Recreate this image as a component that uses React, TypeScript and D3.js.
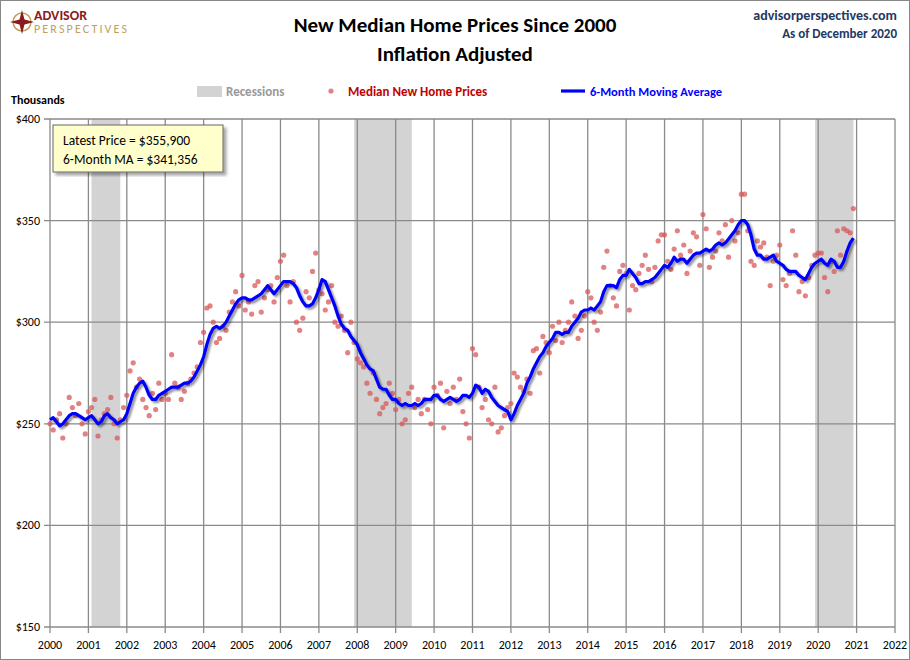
import React from 'react';
import * as d3 from 'd3';

// monthly, Jan 2000 .. Dec 2020, thousands of 2020 dollars
const prices = [
  250,247,252,255,243,250,263,258,254,260,250,245,
  256,258,262,244,252,255,257,263,250,243,252,258,
  264,276,280,268,272,262,258,254,265,257,270,262,
  265,262,284,270,268,262,266,270,272,275,278,290,
  295,307,308,300,290,292,298,296,305,310,315,308,
  323,306,310,304,318,320,305,312,316,318,310,322,
  330,333,318,310,320,300,296,302,315,312,325,334,
  316,314,306,310,318,300,298,303,296,285,300,290,
  282,280,278,270,265,275,262,255,258,260,270,265,
  257,262,250,252,265,268,258,262,255,262,257,250,
  268,264,270,248,266,260,268,262,272,256,250,243,
  287,284,268,258,262,252,250,268,246,248,254,258,
  260,275,273,268,266,272,265,286,287,275,293,290,
  285,298,291,300,290,296,300,310,303,292,296,303,
  315,312,300,296,305,327,335,318,312,308,325,328,
  324,306,318,316,324,328,333,326,320,327,340,343,
  343,330,326,336,345,333,338,324,335,344,342,328,
  353,346,327,332,335,344,340,348,332,350,340,344,
  363,363,345,330,328,340,337,339,332,318,330,333,
  338,321,318,324,345,333,315,320,313,322,328,333,
  334,334,322,315,330,325,345,333,346,345,344,355.9,
];

const movingAvg = [
  252,253,251,249,250,252,254,255,255,254,253,252,
  253,254,252,250,251,254,255,253,252,250,251,252,
  255,260,265,268,270,271,268,264,262,262,264,265,
  266,267,268,268,268,269,270,270,271,273,276,279,
  283,289,294,297,298,297,298,300,303,306,309,311,
  312,312,311,311,312,313,314,316,318,316,314,316,
  318,320,320,320,319,317,313,310,308,308,309,312,
  316,321,320,316,312,308,303,299,297,296,293,291,
  289,285,282,279,277,276,272,268,267,267,264,262,
  262,260,259,260,259,259,260,259,260,262,262,262,
  264,264,262,261,262,263,262,261,262,264,264,263,
  265,269,268,265,267,266,263,261,259,258,257,256,
  252,255,259,262,265,270,273,277,280,283,285,288,
  290,292,295,295,294,295,295,298,300,302,305,306,
  306,307,306,308,310,315,318,318,318,317,321,323,
  323,326,324,322,319,319,320,320,321,322,324,326,
  328,327,329,332,330,331,331,329,331,333,334,334,
  335,336,335,336,338,339,338,339,341,343,345,348,
  350,350,348,343,336,333,333,331,331,332,333,330,
  329,328,326,325,325,325,323,322,321,324,327,329,
  330,331,329,328,331,330,327,327,330,335,339,341.356,
];

const recessions = [[2001.08, 2001.83], [2007.92, 2009.42], [2019.92, 2020.92]];
const yTicks = [150, 200, 250, 300, 350, 400];
const xYears = d3.range(2000, 2023);

const W = 910, H = 660;
const x = d3.scaleLinear().domain([2000, 2022]).range([50, 895]);
const y = d3.scaleLinear().domain([150, 400]).range([627, 119]);
const font = 'Calibri, Carlito, "Open Sans", Arial, sans-serif';

export default function App() {
  const t = (i: number) => 2000 + i / 12;
  const line = d3.line<number>().x((_, i) => x(t(i))).y(d => y(d))(movingAvg) as string;
  return (
    <svg width={W} height={H} style={{ position: 'absolute', left: 0, top: 0, fontFamily: font }}>
      <defs>
        <filter id="sh" x="-5%" y="-5%" width="110%" height="110%">
          <feDropShadow dx="2" dy="2" stdDeviation="1.2" floodColor="#000" floodOpacity="0.45" />
        </filter>
        <filter id="bs"><feDropShadow dx="3" dy="3" stdDeviation="1.5" floodColor="#000" floodOpacity="0.35" /></filter>
      </defs>
      <rect x={0.5} y={0.5} width={W - 1} height={H - 1} fill="#fff" stroke="#888" />
      {recessions.map(([a, b], i) => (
        <rect key={i} x={x(a)} y={119} width={x(b) - x(a)} height={508} fill="#d3d3d3" />
      ))}
      {xYears.map(yr => (
        <line key={yr} x1={x(yr)} x2={x(yr)} y1={119} y2={633} stroke="#8a8a8a" strokeWidth={1.3} />
      ))}
      {yTicks.map(v => (
        <g key={v}>
          <line x1={44} x2={895} y1={y(v)} y2={y(v)} stroke="#8a8a8a" strokeWidth={1.3} />
          <text x={40} y={y(v) + 4} textAnchor="end" fontSize={12}>${v}</text>
        </g>
      ))}
      {xYears.map(yr => (
        <text key={yr} x={x(yr)} y={649} textAnchor="middle" fontSize={12}>{yr}</text>
      ))}
      <text x={11} y={104} fontSize={12} fontWeight="bold">Thousands</text>
      {prices.map((p, i) => (
        <circle key={i} cx={x(t(i))} cy={y(p)} r={2.6} fill="#d9585a" opacity={0.75} />
      ))}
      <path d={line} fill="none" stroke="#0000ff" strokeWidth={3.2} strokeLinejoin="round" filter="url(#sh)" />
      <rect x={53} y={125} width={170} height={47} fill="#ffffcc" stroke="#666" filter="url(#bs)" />
      <text x={63} y={145} fontSize={13.5}>Latest Price = $355,900</text>
      <text x={63} y={164} fontSize={13.5}>6-Month MA = $341,356</text>
      <text x={455} y={32} textAnchor="middle" fontSize={21} fontWeight="bold">New Median Home Prices Since 2000</text>
      <text x={455} y={61} textAnchor="middle" fontSize={21} fontWeight="bold">Inflation Adjusted</text>
      <text x={897} y={20} textAnchor="end" fontSize={14} fontWeight="bold" fill="#1f3864">advisorperspectives.com</text>
      <text x={897} y={38} textAnchor="end" fontSize={13} fontWeight="bold" fill="#1f3864">As of December 2020</text>
      <g>
        <circle cx={22} cy={22} r={9} fill="none" stroke="#c0a060" strokeWidth={1.5} />
        <path d="M22 10 L24.5 19.5 L34 22 L24.5 24.5 L22 34 L19.5 24.5 L10 22 L19.5 19.5 Z" fill="#8b1a1a" />
        <text x={34} y={20} fontSize={14} fontWeight="bold" fill="#8b1a1a">ADVISOR</text>
        <text x={34} y={33} fontSize={12} fill="#c0a060" textLength={93}>PERSPECTIVES</text>
      </g>
      <rect x={197} y={86} width={25} height={11} fill="#d3d3d3" />
      <text x={226} y={96} fontSize={13} fontWeight="bold" fill="#999">Recessions</text>
      <circle cx={331} cy={91} r={2.6} fill="#d9585a" opacity={0.75} />
      <text x={348} y={96} fontSize={13} fontWeight="bold" fill="#c00000">Median New Home Prices</text>
      <line x1={561} x2={585} y1={91} y2={91} stroke="#0000ff" strokeWidth={3.2} />
      <text x={590} y={96} fontSize={12.5} fontWeight="bold" fill="#0000ff">6-Month Moving Average</text>
    </svg>
  );
}
